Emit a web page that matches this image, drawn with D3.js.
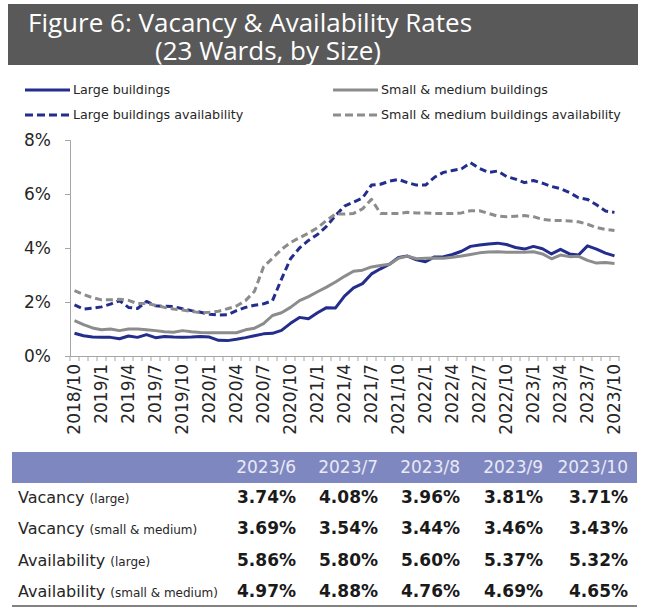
<!DOCTYPE html>
<html>
<head>
<meta charset="utf-8">
<script src="https://cdn.jsdelivr.net/npm/d3@7"></script>
<style>
  body { margin: 0; background: #fff; }
  svg { display: block; }
</style>
</head>
<body>
<div id="chart"></div>
<script>
// Monthly categories, 2018/10 .. 2023/10
const months = [
  "2018/10","2018/11","2018/12",
  "2019/1","2019/2","2019/3","2019/4","2019/5","2019/6","2019/7","2019/8","2019/9","2019/10","2019/11","2019/12",
  "2020/1","2020/2","2020/3","2020/4","2020/5","2020/6","2020/7","2020/8","2020/9","2020/10","2020/11","2020/12",
  "2021/1","2021/2","2021/3","2021/4","2021/5","2021/6","2021/7","2021/8","2021/9","2021/10","2021/11","2021/12",
  "2022/1","2022/2","2022/3","2022/4","2022/5","2022/6","2022/7","2022/8","2022/9","2022/10","2022/11","2022/12",
  "2023/1","2023/2","2023/3","2023/4","2023/5","2023/6","2023/7","2023/8","2023/9","2023/10"
];

// Rates in %
const largeVacancy = [
  0.84, 0.75, 0.70, 0.69, 0.69, 0.64, 0.74, 0.69, 0.79, 0.68, 0.72, 0.70, 0.69, 0.70, 0.72,
  0.70, 0.58, 0.57, 0.62, 0.68, 0.75, 0.82, 0.84, 0.95, 1.21, 1.43, 1.38,
  1.60, 1.79, 1.78, 2.22, 2.52, 2.68, 3.04, 3.23, 3.40, 3.65, 3.70, 3.56,
  3.49, 3.67, 3.68, 3.76, 3.88, 4.06, 4.11, 4.15, 4.18, 4.13, 4.02, 3.96,
  4.06, 3.97, 3.78, 3.95, 3.78, 3.74, 4.08, 3.96, 3.81, 3.71
];
const smallVacancy = [
  1.31, 1.16, 1.04, 0.97, 1.00, 0.94, 1.00, 1.00, 0.97, 0.94, 0.90, 0.88, 0.94, 0.90, 0.87,
  0.86, 0.86, 0.86, 0.86, 0.97, 1.03, 1.20, 1.50, 1.60, 1.80, 2.05, 2.20,
  2.38, 2.55, 2.74, 2.95, 3.14, 3.18, 3.30, 3.35, 3.40, 3.62, 3.70, 3.60,
  3.62, 3.63, 3.62, 3.66, 3.70, 3.76, 3.82, 3.85, 3.86, 3.84, 3.84, 3.84,
  3.86, 3.78, 3.60, 3.74, 3.68, 3.69, 3.54, 3.44, 3.46, 3.43
];
const largeAvailability = [
  1.89, 1.74, 1.77, 1.82, 1.92, 2.05, 1.80, 1.76, 2.02, 1.86, 1.84, 1.83, 1.75, 1.68, 1.62,
  1.55, 1.52, 1.53, 1.68, 1.80, 1.88, 1.93, 2.05, 2.85, 3.60, 4.00, 4.28,
  4.50, 4.80, 5.20, 5.55, 5.70, 5.85, 6.33, 6.36, 6.48, 6.54, 6.42, 6.33,
  6.33, 6.62, 6.80, 6.87, 6.93, 7.16, 6.95, 6.80, 6.85, 6.65, 6.55, 6.42,
  6.50, 6.40, 6.28, 6.20, 6.05, 5.86, 5.80, 5.60, 5.37, 5.32
];
const smallAvailability = [
  2.42, 2.28, 2.16, 2.08, 2.08, 2.10, 2.06, 1.94, 1.95, 1.88, 1.80, 1.74, 1.70, 1.65, 1.60,
  1.62, 1.66, 1.75, 1.85, 2.05, 2.40, 3.30, 3.62, 3.95, 4.20, 4.38, 4.55,
  4.75, 5.02, 5.26, 5.26, 5.28, 5.45, 5.80, 5.28, 5.28, 5.28, 5.32, 5.30,
  5.30, 5.28, 5.28, 5.28, 5.30, 5.38, 5.38, 5.28, 5.18, 5.16, 5.18, 5.20,
  5.16, 5.06, 5.02, 5.02, 5.00, 4.97, 4.88, 4.76, 4.69, 4.65
];

const yTicks = [0, 2, 4, 6, 8];

// Summary table
const tableCols = ["2023/6", "2023/7", "2023/8", "2023/9", "2023/10"];
const tableLabels = [
  ["Vacancy", "(large)"],
  ["Vacancy", "(small & medium)"],
  ["Availability", "(large)"],
  ["Availability", "(small & medium)"]
];
const tableValues = [
  ["3.74%", "4.08%", "3.96%", "3.81%", "3.71%"],
  ["3.69%", "3.54%", "3.44%", "3.46%", "3.43%"],
  ["5.86%", "5.80%", "5.60%", "5.37%", "5.32%"],
  ["4.97%", "4.88%", "4.76%", "4.69%", "4.65%"]
];

function init() {
  const W = 645, H = 608;
  const navy = "#232d8c", grey = "#8c8c8c", txt = "#262626";
  const font = "'DejaVu Sans', Verdana, sans-serif";

  const svg = d3.select("#chart").append("svg")
    .attr("width", W)
    .attr("height", H);

  // Title band
  svg.append("rect")
    .attr("x", 8).attr("y", 4)
    .attr("width", 630).attr("height", 61)
    .attr("fill", "#595959");

  // Two-line title in one text element
  const title = svg.append("text")
    .attr("font-family", "'Open Sans', sans-serif")
    .attr("font-size", 26)
    .attr("fill", "#fff");
  title.append("tspan")
    .attr("x", 28).attr("y", 32)
    .text("Figure 6: Vacancy & Availability Rates");
  title.append("tspan")
    .attr("x", 155).attr("y", 60)
    .text("(23 Wards, by Size)");

  // Series
  const series = [
    { name: "Large buildings", values: largeVacancy, color: navy, dash: null },
    { name: "Small & medium buildings", values: smallVacancy, color: grey, dash: null },
    { name: "Large buildings availability", values: largeAvailability, color: navy, dash: "7,4" },
    { name: "Small & medium buildings availability", values: smallAvailability, color: grey, dash: "7,4" }
  ];

  // Legend
  const legendPos = [[25, 90], [333, 90], [25, 115], [333, 115]];
  series.forEach((s, i) => {
    const [lx, ly] = legendPos[i];
    svg.append("line")
      .attr("x1", lx).attr("x2", lx + 45)
      .attr("y1", ly).attr("y2", ly)
      .attr("stroke", s.color)
      .attr("stroke-width", 3)
      .attr("stroke-dasharray", s.dash ? "8,4" : null);
    svg.append("text")
      .attr("x", lx + 48).attr("y", ly + 4)
      .attr("font-family", font)
      .attr("font-size", 12.7)
      .attr("fill", txt)
      .text(s.name);
  });

  // Scales
  const x = d3.scaleBand()
    .domain(months)
    .range([70, 619]);

  const y = d3.scaleLinear()
    .domain([0, 8])
    .range([356, 140]);

  const cx = d => x(d) + x.bandwidth() / 2;

  // Y axis
  const yAxis = svg.append("g")
    .attr("transform", "translate(70,0)")
    .call(d3.axisLeft(y).tickValues(yTicks).tickSize(5).tickPadding(14).tickFormat(d => d + "%"));
  yAxis.select(".domain").attr("stroke", "#a6a6a6");
  yAxis.selectAll(".tick line").attr("stroke", "#a6a6a6");
  yAxis.selectAll("text")
    .attr("font-family", font)
    .attr("font-size", 17)
    .attr("fill", txt);

  // X axis: labels every 3 months, ticks between categories
  const xAxis = svg.append("g")
    .attr("transform", "translate(0,356)")
    .call(d3.axisBottom(x).tickValues(months.filter((d, i) => i % 3 === 0)).tickSize(0));
  xAxis.select(".domain").attr("stroke", "#a6a6a6");
  xAxis.selectAll("text")
    .attr("font-family", font)
    .attr("font-size", 17)
    .attr("fill", txt)
    .attr("transform", "rotate(-90)")
    .attr("x", -8)
    .attr("y", 0)
    .attr("dy", "0.35em")
    .style("text-anchor", "end");

  const edges = months.map(d => x(d)).concat([x.range()[1]]);
  svg.append("g")
    .selectAll("line")
    .data(edges)
    .join("line")
      .attr("x1", d => d).attr("x2", d => d)
      .attr("y1", 356).attr("y2", 361)
      .attr("stroke", "#a6a6a6");

  // Lines
  const line = d3.line()
    .x((d, i) => cx(months[i]))
    .y(d => y(d));

  svg.append("g")
    .selectAll("path")
    .data(series)
    .join("path")
      .attr("d", s => line(s.values))
      .attr("fill", "none")
      .attr("stroke", s => s.color)
      .attr("stroke-width", 3)
      .attr("stroke-linejoin", "round")
      .attr("stroke-dasharray", s => s.dash);

  // Table
  const colRight = [296, 378, 460, 543, 628];
  svg.append("rect")
    .attr("x", 12).attr("y", 452)
    .attr("width", 625).attr("height", 31)
    .attr("fill", "#7f87c0");

  svg.append("g")
    .selectAll("text")
    .data(tableCols)
    .join("text")
      .attr("x", (d, i) => colRight[i])
      .attr("y", 473)
      .attr("text-anchor", "end")
      .attr("font-family", font)
      .attr("font-size", 17)
      .attr("fill", "#e8eaf5")
      .text(d => d);

  const rowY = [503, 534, 566, 597];
  tableLabels.forEach((lab, r) => {
    const t = svg.append("text")
      .attr("x", 18).attr("y", rowY[r])
      .attr("font-family", font)
      .attr("fill", txt);
    t.append("tspan").attr("font-size", 16).text(lab[0] + " ");
    t.append("tspan").attr("font-size", 12).text(lab[1]);

    svg.append("g")
      .selectAll("text")
      .data(tableValues[r])
      .join("text")
        .attr("x", (d, i) => colRight[i])
        .attr("y", rowY[r])
        .attr("text-anchor", "end")
        .attr("font-family", font)
        .attr("font-weight", "bold")
        .attr("font-size", 17)
        .attr("fill", "#1a1a1a")
        .text(d => d);
  });

  svg.append("line")
    .attr("x1", 12).attr("x2", 637)
    .attr("y1", 606).attr("y2", 606)
    .attr("stroke", "#595959")
    .attr("stroke-width", 1.5);
}

window.onload = init;
</script>
</body>
</html>
